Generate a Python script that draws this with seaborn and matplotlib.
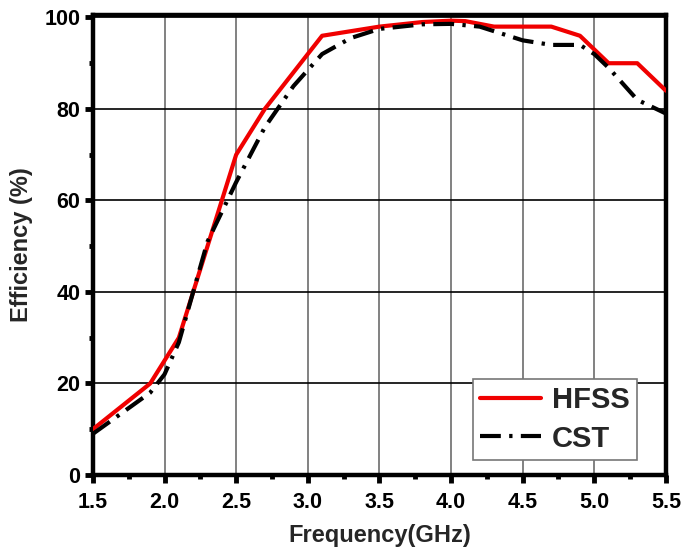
import matplotlib
matplotlib.use("Agg")
import matplotlib.pyplot as plt
import seaborn as sns
import pandas as pd
from matplotlib.ticker import MultipleLocator

freq_hfss = [1.5, 1.9, 2.1, 2.5, 2.7, 3.1, 3.5, 3.8, 4.0, 4.1, 4.3, 4.7, 4.9, 5.1, 5.3, 5.5]
eff_hfss = [10, 20, 30, 70, 80, 96, 98, 99, 99.3, 99.2, 98, 98, 96, 90, 90, 84]

freq_cst = [1.5, 1.9, 2.0, 2.1, 2.2, 2.3, 2.5, 2.7, 2.9, 3.1, 3.3, 3.5, 3.8, 4.0, 4.2, 4.5, 4.7, 4.9, 5.0, 5.1, 5.3, 5.5]
eff_cst = [9, 18, 22, 29, 40, 51, 64, 76, 85, 92, 95.5, 97.5, 98.5, 98.6, 98, 95, 94, 94, 92, 89, 82, 79]

x_ticks = [1.5, 2.0, 2.5, 3.0, 3.5, 4.0, 4.5, 5.0, 5.5]
x_tick_labels = ["1.5", "2.0", "2.5", "3.0", "3.5", "4.0", "4.5", "5.0", "5.5"]

df_h = pd.DataFrame({"Frequency": freq_hfss, "Efficiency": eff_hfss})
df_c = pd.DataFrame({"Frequency": freq_cst, "Efficiency": eff_cst})

sns.set_theme(style="white")
plt.rcParams["font.family"] = ["Liberation Sans", "DejaVu Sans"]
plt.rcParams["font.weight"] = "bold"

fig = plt.figure(figsize=(6.83, 5.54), dpi=100)
ax = fig.add_axes([0.136, 0.1426, 0.839, 0.830])

sns.lineplot(data=df_h, x="Frequency", y="Efficiency", ax=ax, color="#f00000",
             linewidth=3, label="HFSS", zorder=4)
sns.lineplot(data=df_c, x="Frequency", y="Efficiency", ax=ax, color="black",
             linewidth=3, linestyle=(0, (5, 2, 0.8, 2)), label="CST", zorder=5)

ax.set_xticks(x_ticks)
ax.set_xticklabels(x_tick_labels)
ax.xaxis.set_minor_locator(MultipleLocator(0.25))
ax.yaxis.set_major_locator(MultipleLocator(20))
ax.yaxis.set_minor_locator(MultipleLocator(10))
ax.set_xlim(1.5, 5.5)
ax.set_ylim(0, 100.5)

ax.grid(False)
for x in x_ticks[1:-1]:
    ax.axvline(x, color="#777777", linewidth=1.3, zorder=1)
for y in [20, 40, 60, 80, 100]:
    ax.axhline(y, color="black", linewidth=1.2, zorder=1)

for s in ax.spines.values():
    s.set_linewidth(3.2)
    s.set_color("black")

ax.tick_params(axis="both", which="major", direction="out", length=6, width=3.5,
               labelsize=15.5, colors="black", bottom=True, left=True)
ax.tick_params(axis="x", which="major", pad=6)
ax.tick_params(axis="y", which="major", pad=3)
ax.tick_params(axis="both", which="minor", direction="out", length=3, width=3.5,
               bottom=True, left=True, colors="black")
for lbl in ax.get_xticklabels() + ax.get_yticklabels():
    lbl.set_fontweight("bold")

ax.set_xlabel("Frequency(GHz)", fontsize=17, fontweight="bold", labelpad=8)
ax.set_ylabel("Efficiency (%)", fontsize=17, fontweight="bold", labelpad=8)

leg = ax.legend(loc="lower right", bbox_to_anchor=(0.949, 0.033), fontsize=21,
                frameon=True, fancybox=False, edgecolor="#777777", framealpha=1,
                handlelength=2.1, handletextpad=0.35, borderpad=0.25,
                labelspacing=0.35, borderaxespad=0.0)
leg.get_frame().set_linewidth(1.2)
for t in leg.get_texts():
    t.set_fontweight("bold")

fig.savefig("out.png", dpi=100)
